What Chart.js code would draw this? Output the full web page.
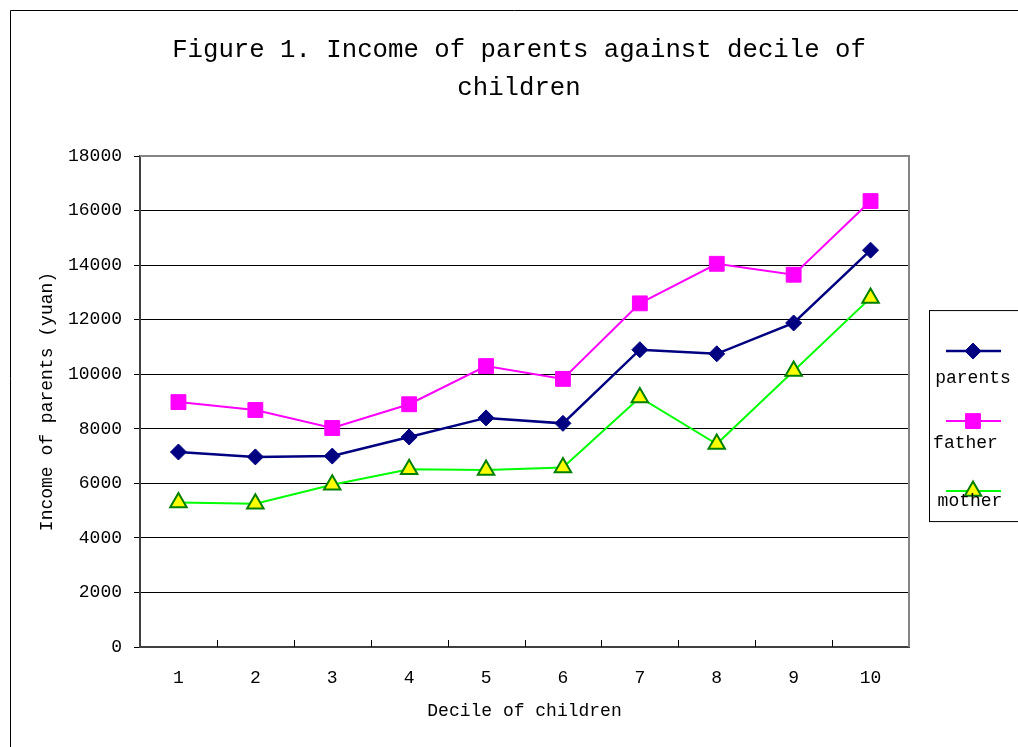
<!DOCTYPE html>
<html><head><meta charset="utf-8">
<script src="https://cdn.jsdelivr.net/npm/chart.js@4/dist/chart.umd.min.js"></script>
<style>html,body{margin:0;padding:0;background:#fff}#wrap{width:1018px;height:747px}</style>
</head><body><div id="wrap"><canvas id="c" width="1018" height="747"></canvas></div>
<script>
const deciles = ['1','2','3','4','5','6','7','8','9','10'];
const parentsIncome = [7150, 6970, 7000, 7700, 8400, 8200, 10900, 10750, 11880, 14550];
const fatherIncome  = [8980, 8690, 8030, 8900, 10300, 9830, 12600, 14050, 13650, 16350];
const motherIncome  = [5300, 5250, 5950, 6520, 6490, 6580, 9150, 7440, 10120, 12800];
const yMin = 0, yMax = 18000, yStep = 2000;
const titleLines = ['Figure 1. Income of parents against decile of', 'children'];
const xTitle = 'Decile of children';
const yTitle = 'Income of parents (yuan)';
const seriesNames = ['parents', 'father', 'mother'];

const FONT = "'Liberation Mono', 'DejaVu Sans Mono', monospace";
Chart.defaults.font.family = FONT;
Chart.defaults.font.size = 18;
Chart.defaults.color = '#000';

const outerBorder = {
  id: 'outerBorder',
  beforeDraw(chart) {
    const ctx = chart.ctx;
    ctx.save();
    ctx.strokeStyle = '#000'; ctx.lineWidth = 1;
    ctx.beginPath();
    ctx.moveTo(10.5, chart.height); ctx.lineTo(10.5, 10.5); ctx.lineTo(chart.width, 10.5);
    ctx.stroke();
    ctx.restore();
  }
};

const plotFrame = {
  id: 'plotFrame',
  beforeDatasetsDraw(chart) {
    const {ctx, chartArea: a} = chart;
    const xs = chart.scales.x;
    ctx.save();
    ctx.strokeStyle = '#000'; ctx.lineWidth = 1;
    ctx.beginPath();
    for (let i = 0; i < deciles.length - 1; i++) {
      const bx = Math.round((xs.getPixelForValue(i) + xs.getPixelForValue(i + 1)) / 2) + 0.5;
      ctx.moveTo(bx, a.bottom); ctx.lineTo(bx, a.bottom - 7);
    }
    ctx.stroke();
    ctx.strokeStyle = '#858585'; ctx.lineWidth = 2;
    ctx.beginPath();
    ctx.moveTo(a.left, a.top); ctx.lineTo(a.right, a.top); ctx.lineTo(a.right, a.bottom);
    ctx.stroke();
    ctx.restore();
  }
};

const sideLegend = {
  id: 'sideLegend',
  beforeInit(chart) {
    const box = {
      position: 'right', weight: 0, fullSize: false, options: {},
      width: 0, height: 0, left: 0, top: 0, right: 0, bottom: 0,
      isHorizontal() { return false; },
      update(maxWidth, maxHeight) { this.width = 97; this.height = maxHeight; },
      draw() {
        const ctx = chart.ctx, a = chart.chartArea;
        const fl = this.left + 20, ft = a.top + 154, fh = 211;
        ctx.save();
        ctx.fillStyle = '#fff';
        ctx.fillRect(fl, ft, chart.width - fl + 5, fh);
        ctx.strokeStyle = '#000'; ctx.lineWidth = 1;
        ctx.strokeRect(fl + 0.5, ft + 0.5, chart.width - fl + 5, fh);
        const textOffY = [27, 22, 10];
        const textOffX = [44, 36.5, 41];
        chart.data.datasets.forEach((ds, i) => {
          const ly = ft + 41 + i * 70;
          ctx.strokeStyle = ds.borderColor; ctx.lineWidth = ds.borderWidth;
          ctx.beginPath(); ctx.moveTo(fl + 17, ly); ctx.lineTo(fl + 72, ly); ctx.stroke();
          ctx.fillStyle = ds.pointBackgroundColor; ctx.strokeStyle = ds.pointBorderColor;
          ctx.lineWidth = ds.pointBorderWidth;
          Chart.helpers.drawPoint(ctx, {pointStyle: ds.pointStyle, radius: ds.pointRadius, borderWidth: ds.pointBorderWidth, rotation: 0}, fl + 44, ly);
          ctx.fillStyle = '#000'; ctx.font = '18px ' + FONT;
          ctx.textAlign = 'center'; ctx.textBaseline = 'middle';
          ctx.fillText(ds.label, fl + textOffX[i], ly + textOffY[i]);
        });
        ctx.restore();
      }
    };
    Chart.layouts.addBox(chart, box);
  }
};

new Chart(document.getElementById('c'), {
  type: 'line',
  data: {
    labels: deciles,
    datasets: [
      { label: seriesNames[0], data: parentsIncome, borderColor: '#000080', borderWidth: 2.5,
        pointStyle: 'rectRot', pointRadius: 8, pointBackgroundColor: '#000080', pointBorderColor: '#000080', pointBorderWidth: 1 },
      { label: seriesNames[1], data: fatherIncome, borderColor: '#FF00FF', borderWidth: 2,
        pointStyle: 'rect', pointRadius: 10.5, pointBackgroundColor: '#FF00FF', pointBorderColor: '#FF00FF', pointBorderWidth: 1 },
      { label: seriesNames[2], data: motherIncome, borderColor: '#00FF00', borderWidth: 2,
        pointStyle: 'triangle', pointRadius: 9.5, pointBackgroundColor: '#FFFF00', pointBorderColor: '#008000', pointBorderWidth: 2 }
    ]
  },
  options: {
    responsive: false, animation: false, devicePixelRatio: 1,
    layout: { padding: { left: 32, right: 12, top: 12, bottom: 0 } },
    plugins: {
      legend: { display: false }, tooltip: { enabled: false },
      title: { display: true, text: titleLines, color: '#000',
        font: { family: FONT, size: 25.7, weight: 'normal', lineHeight: 1.48 },
        padding: { top: 19, bottom: 49 } }
    },
    scales: {
      x: {
        offset: true,
        grid: { display: false, drawTicks: false },
        border: { display: true, color: '#404040', width: 2 },
        ticks: { padding: 20, font: { size: 18 }, maxRotation: 0 },
        title: { display: true, text: xTitle, font: { size: 18 }, padding: { top: -8.4, bottom: 25.2 } }
      },
      y: {
        min: yMin, max: yMax,
        afterFit(s) { s.width = 108; },
        grid: { color: '#000', lineWidth: 1, tickLength: 6, tickColor: '#000' },
        border: { display: true, color: '#404040', width: 2 },
        ticks: { stepSize: yStep, padding: 12, font: { size: 18 }, callback: v => String(v) },
        title: { display: true, text: yTitle, font: { size: 18 }, padding: { top: 4, bottom: 4 } }
      }
    }
  },
  plugins: [outerBorder, plotFrame, sideLegend]
});
</script>
</body></html>
